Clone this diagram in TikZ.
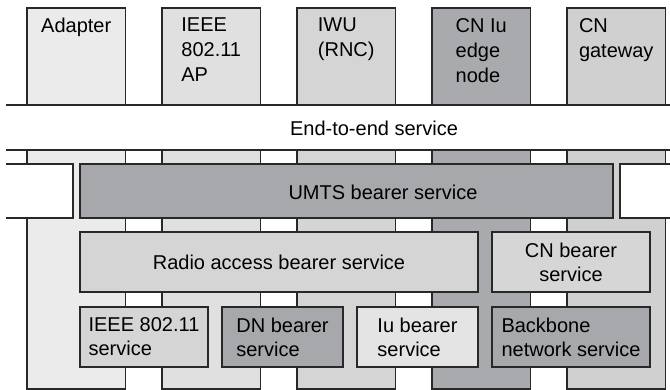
\documentclass[tikz,border=0pt]{standalone}
\usepackage{fontspec}
\setmainfont{Liberation Sans}
\usepackage{tikz}
\usetikzlibrary{positioning}
\definecolor{nodeA}{RGB}{235,235,235}
\definecolor{nodeB}{RGB}{224,224,224}
\definecolor{nodeC}{RGB}{213,213,213}
\definecolor{nodeD}{RGB}{169,170,173}
\definecolor{nodeE}{RGB}{208,208,208}
\definecolor{svcdark}{RGB}{167,168,171}
\definecolor{svcmid}{RGB}{213,213,213}
\definecolor{svclight}{RGB}{228,228,228}
\definecolor{edgegray}{RGB}{40,40,40}

\begin{document}
\begin{tikzpicture}[x=1pt,y=-1pt,
  lay/.style={draw=edgegray,line width=1.1pt,inner sep=0pt,outer sep=0pt,
              anchor=north west,minimum width=98.5pt},
  ent/.style={lay,minimum height=97pt},
  strip/.style={lay,minimum height=239pt},
  svc/.style={draw=edgegray,line width=1.1pt,inner sep=0pt,outer sep=0pt,
              anchor=north west,minimum height=60pt,align=left,
              font=\fontsize{20}{24}\selectfont},
  txt/.style={font=\fontsize{20}{25}\selectfont,align=left,inner sep=0pt},
  rule/.style={draw=edgegray,line width=1.1pt}
]
\useasboundingbox (0,0) rectangle (670,390);

% network entities and their strips
\foreach \n/\x/\c in {adp/27/nodeA,ap/162/nodeB,iwu/297/nodeC,edge/432/nodeD,gw/567/nodeE}{
  \node[ent,fill=\c] (\n) at (\x,8) {};
  \node[strip,fill=\c] (\n strip) at (\x,150) {};
}
\node[txt,anchor=north] at ([yshift=-10pt]adp.north) {Adapter};
\node[txt,anchor=north] at ([yshift=-10pt]ap.north) {IEEE\\802.11\\AP};
\node[txt,anchor=north] at ([yshift=-10pt]iwu.north) {IWU\\(RNC)};
\node[txt,anchor=north] at ([yshift=-10pt]edge.north) {CN Iu\\edge\\node};
\node[txt,anchor=north] at ([yshift=-10pt]gw.north) {CN\\gateway};
\draw[rule] (6,105) -- (670,105);

% end-to-end service
\node[txt,anchor=base] (e2e) at (374,136) {End-to-end service};
\draw[rule] (6,150) -- (670,150);
\draw[rule,fill=white] (6,164) -| (73,218) -- (6,218);
\draw[rule,fill=white] (670,164) -| (620,218) -- (670,218);

% bearer services
\node[svc,fill=svcdark,minimum width=533pt,minimum height=54pt] (umts) at (80,164) {};
\node[txt,anchor=base] at (383,200) {UMTS bearer service};
\node[svc,fill=svcmid,minimum width=398pt] (rab) at (80,232) {Radio access bearer service};
\node[svc,fill=svcmid!97!white,minimum width=158pt,align=center] (cnb) at (492,232) {CN bearer\\service};

% lower layer services
\node[svc,fill=svcmid,minimum width=128pt] (wlan) at (80,307) {IEEE 802.11\\service};
\node[svc,fill=svcdark,minimum width=121pt] (dnb) at (222,307) {DN bearer\\service};
\node[svc,fill=svclight,minimum width=121pt] (iub) at (357,307) {Iu bearer\\service};
\node[svc,fill=svcdark,minimum width=158pt] (bbn) at (492,307) {Backbone\\network service};

\end{tikzpicture}
\end{document}
